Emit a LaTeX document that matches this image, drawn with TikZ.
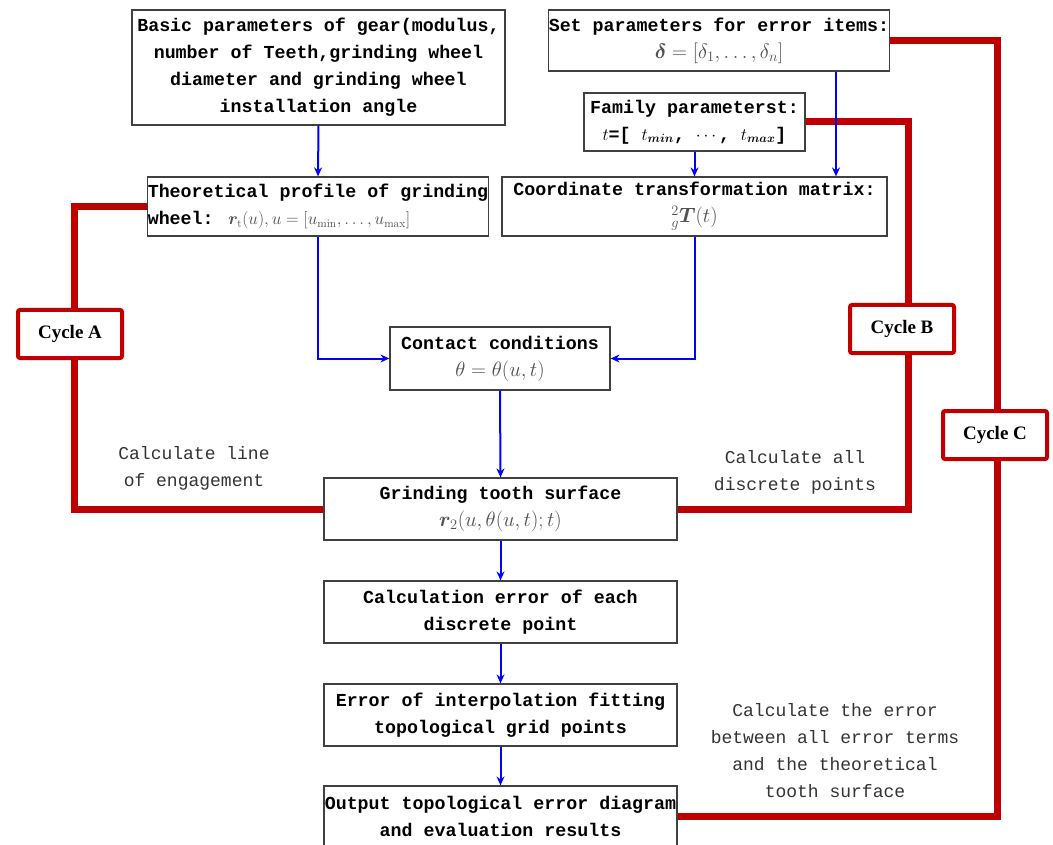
\documentclass[tikz,border=0pt]{standalone}
\usepackage{amsmath,amssymb,bm}
\usepackage{fontspec}
\usepackage{xcolor}
\usetikzlibrary{arrows.meta}
\newfontfamily\flowfont{Liberation Mono}
\newfontfamily\cyclefont{Liberation Serif}
\definecolor{cycred}{RGB}{192,0,0}
\definecolor{flowblue}{RGB}{0,0,255}
\definecolor{mathgray}{RGB}{80,80,80}
\newcommand{\mg}[1]{{\fontsize{20}{27}\selectfont\textcolor{mathgray}{$#1$}}}
\newcommand{\mgs}[1]{{\fontsize{16.5}{27}\selectfont\textcolor{mathgray}{$#1$}}}

\begin{document}
\begin{tikzpicture}[x=1pt, y=-1pt,
  box/.style={draw=black!75, line width=1.2pt, fill=white, align=center, inner sep=0pt, font=\flowfont\bfseries\fontsize{18.3}{27}\selectfont},
  cyclebox/.style={draw=cycred, line width=4pt, rounded corners=2pt, fill=white, minimum width=104pt, minimum height=48pt, inner sep=0pt, font=\cyclefont\bfseries\fontsize{19}{22}\selectfont},
  note/.style={align=center, inner sep=0pt, text=black!80, font=\flowfont\fontsize{18}{27}\selectfont},
  flow/.style={draw=flowblue, line width=2pt, -{Stealth[length=9pt,width=8pt]}},
  cycleline/.style={draw=cycred, line width=7pt}]
\useasboundingbox (0,0) rectangle (1053,845);

% Boxes
\node[box, minimum width=373pt, minimum height=115pt] (basic) at (318.5,67.5) {Basic parameters of gear(modulus,\\number of Teeth,grinding wheel\\diameter and grinding wheel\\installation angle};
\node[box, minimum width=338pt, minimum height=61pt] (setp) at (719,40.5) {Set parameters for error items:\\\mg{\bm{\delta}=[\delta_1,\ldots,\delta_n]}};
\node[box, minimum width=221pt, minimum height=58pt] (family) at (694.5,122) {Family parameterst:\\$t$=[ $t_{\bm{min}}$, $\cdots$, $t_{\bm{max}}$]};
\node[box, align=left, minimum width=340pt, minimum height=59pt] (theo) at (318,206.5) {Theoretical profile of grinding\\wheel: \mgs{\bm{r}_{\mathrm{t}}(u),u=[u_{\min},\ldots,u_{\max}]}};
\node[box, minimum width=385pt, minimum height=59pt] (coord) at (694.5,206.5) {Coordinate transformation matrix:\\\mg{{}^{2}_{g}\bm{T}(t)}};
\node[box, minimum width=220pt, minimum height=63pt] (contact) at (500,358.5) {Contact conditions\\\mg{\theta=\theta(u,t)}};
\node[box, minimum width=353pt, minimum height=62pt] (grind) at (500.5,509) {Grinding tooth surface\\\mg{\bm{r}_2(u,\theta(u,t);t)}};
\node[box, minimum width=353pt, minimum height=62pt] (calc) at (500.5,612) {Calculation error of each\\discrete point};
\node[box, minimum width=353pt, minimum height=62pt] (interp) at (500.5,715) {Error of interpolation fitting\\topological grid points};
\node[box, minimum width=353pt, minimum height=61pt] (output) at (500.5,816.5) {Output topological error diagram\\and evaluation results};

% Cycles
\draw[cycleline] (theo.west) -- ([xshift=-73pt]theo.west) |- (grind.west);
\draw[cycleline] (family.east) -- ([xshift=103pt]family.east) |- (grind.east);
\draw[cycleline] (setp.east) -- ([xshift=108pt]setp.east) |- (output.east);
\node[cyclebox] (cyca) at (70,334) {Cycle A};
\node[cyclebox] (cycb) at (902,329) {Cycle B};
\node[cyclebox] (cycc) at (995,435) {Cycle C};

% Arrows
\draw[flow] (basic.south) -- (theo.north);
\draw[flow] (family.south) -- (coord.north);
\draw[flow] ([xshift=117pt]setp.south) -- ([xshift=117pt]setp.south |- coord.north);
\draw[flow] (theo.south) |- (contact.west);
\draw[flow] (coord.south) |- (contact.east);
\draw[flow] (contact.south) -- (grind.north);
\draw[flow] (grind.south) -- (calc.north);
\draw[flow] (calc.south) -- (interp.north);
\draw[flow] (interp.south) -- (output.north);

% Notes
\node[note] (notea) at (194,468) {Calculate line\\of engagement};
\node[note] (noteb) at (795,472) {Calculate all\\discrete points};
\node[note] (notec) at (835,751) {Calculate the error\\between all error terms\\and the theoretical\\tooth surface};
\end{tikzpicture}
\end{document}
